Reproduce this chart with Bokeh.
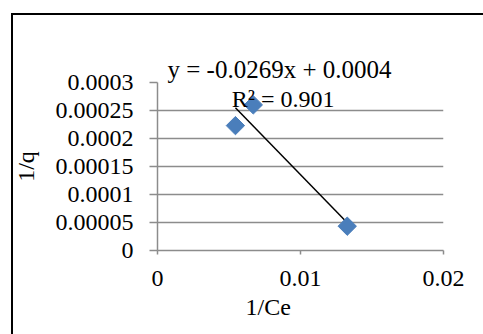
import numpy as np
from bokeh.plotting import figure
from bokeh.models import FixedTicker, Label, Range1d, Title
from bokeh.embed import file_html
from bokeh.resources import INLINE

# data
inv_ce = [0.00545, 0.0067, 0.01327]
inv_q = [0.000223, 0.00026, 0.0000434]
x_ticks = [0, 0.01, 0.02]
x_tick_labels = ["0", "0.01", "0.02"]
y_ticks = [0, 0.00005, 0.0001, 0.00015, 0.0002, 0.00025, 0.0003]
y_tick_labels = ["0", "0.00005", "0.0001", "0.00015", "0.0002", "0.00025", "0.0003"]
eq_text = "y = -0.0269x + 0.0004"
r2_text = "R² = 0.901"

FONT = "Liberation Serif"
GRAY = "#8c8c8c"

p = figure(width=483, height=334, output_backend="svg", toolbar_location=None,
           x_range=Range1d(0, 0.02), y_range=Range1d(0, 0.0003),
           min_border_left=157, min_border_right=40, min_border_top=82, min_border_bottom=84)
p.outline_line_color = None
p.background_fill_color = None
p.border_fill_color = None
# chart border: only its left and top edges are visible in the picture
p.styles = {
    "background-color": "white",
    "background-image": "linear-gradient(black, black), linear-gradient(black, black)",
    "background-size": "2px 400px, 600px 2px",
    "background-position": "11px 13px, 11px 13px",
    "background-repeat": "no-repeat",
}

# trend line from least squares fit over the data range
slope, intercept = np.polyfit(inv_ce, inv_q, 1)
xs = np.array([min(inv_ce), max(inv_ce)])
p.line(xs, slope * xs + intercept, line_color="black", line_width=1.5)

p.scatter(inv_ce, inv_q, marker="square", angle=np.pi / 4, size=13,
          fill_color="#4a7ebb", line_color="#4a7ebb")

# axes
for ax in (p.xaxis[0], p.yaxis[0]):
    ax.axis_line_color = GRAY
    ax.axis_line_width = 1.5
    ax.major_tick_line_color = GRAY
    ax.major_tick_line_width = 1.5
    ax.minor_tick_line_color = None
    ax.major_tick_in = 0
    ax.major_label_text_font = FONT
    ax.major_label_text_font_size = "24px"
    ax.major_label_text_color = "black"

p.xaxis.ticker = FixedTicker(ticks=x_ticks)
p.xaxis.major_label_overrides = dict(zip(x_ticks, x_tick_labels))
p.xaxis.major_tick_out = 4
p.xaxis.major_label_standoff = 16

p.yaxis.ticker = FixedTicker(ticks=y_ticks)
p.yaxis.major_label_overrides = dict(zip(y_ticks, y_tick_labels))
p.yaxis.major_tick_out = 8
p.yaxis.major_label_standoff = 16
p.yaxis.axis_label = "1/q"
p.yaxis.axis_label_text_font = FONT
p.yaxis.axis_label_text_font_size = "24px"
p.yaxis.axis_label_text_font_style = "normal"
p.yaxis.axis_label_text_color = "black"
p.yaxis.axis_label_standoff = 14

p.xgrid.grid_line_color = None
p.ygrid.grid_line_color = GRAY
p.ygrid.grid_line_width = 1.5

# x axis title, left of centre as in the picture
p.add_layout(Title(text="1/Ce", align="left", offset=88, standoff=7,
                   text_font=FONT, text_font_size="24px", text_font_style="normal",
                   text_color="black"), "below")

# trendline equation
p.add_layout(Title(text=eq_text, align="left", offset=10, standoff=0,
                   text_font=FONT, text_font_size="25px", text_font_style="normal",
                   text_color="black"), "above")
p.add_layout(Label(x=0.00878, y=0.00027, text=r2_text, text_align="center",
                   text_baseline="alphabetic", text_font=FONT, text_font_size="24px",
                   text_color="black"))

open("out.html", "w").write(file_html(p, INLINE))
